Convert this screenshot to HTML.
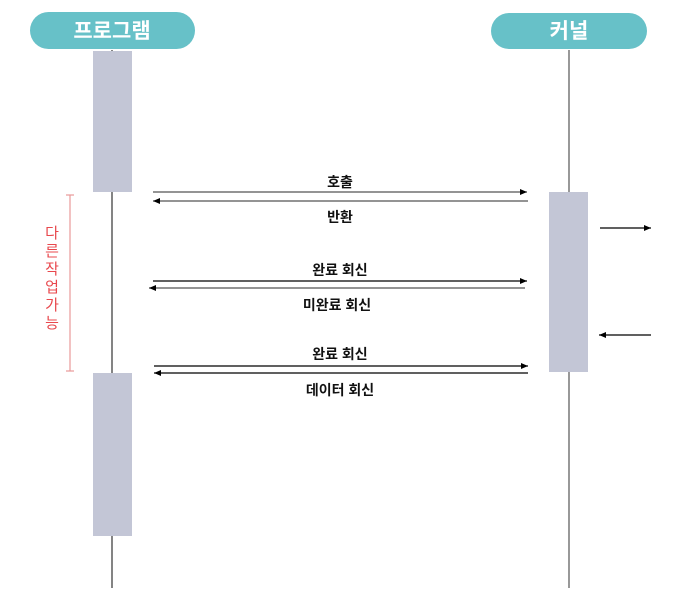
<!DOCTYPE html>
<html><head><meta charset="utf-8"><style>
html,body{margin:0;padding:0;background:#fff;width:680px;height:600px;overflow:hidden}
text{font-family:"Liberation Sans","Noto Sans CJK KR",sans-serif}
</style></head><body>
<svg width="680" height="600" xmlns="http://www.w3.org/2000/svg">
<defs>
<marker id="a" markerWidth="8" markerHeight="8" refX="7" refY="4" orient="auto" markerUnits="userSpaceOnUse"><path d="M0,1 L7,4 L0,7 z" fill="#000"/></marker>
</defs>
<line x1="112" y1="50" x2="112" y2="588" stroke="#333" stroke-width="1.2"/>
<line x1="569" y1="50" x2="569" y2="588" stroke="#555" stroke-width="1.2"/>
<rect x="30" y="12" width="165" height="37" rx="18.5" fill="#67c1c8"/>
<text x="112" y="38" text-anchor="middle" font-size="21" font-weight="bold" fill="#fff">프로그램</text>
<rect x="491" y="13" width="156" height="36" rx="18" fill="#67c1c8"/>
<text x="569" y="38" text-anchor="middle" font-size="21" font-weight="bold" fill="#fff">커널</text>
<rect x="93" y="51" width="39" height="141" fill="#c3c6d6"/>
<rect x="93" y="373" width="39" height="163" fill="#c3c6d6"/>
<rect x="549" y="192" width="39" height="180" fill="#c3c6d6"/>
<g stroke="#e89a9a" stroke-width="1.2">
<line x1="70" y1="195" x2="70" y2="371"/><line x1="66" y1="195" x2="74" y2="195"/><line x1="66" y1="371" x2="74" y2="371"/>
</g>
<g fill="#e8484d" font-size="15" text-anchor="middle">
<text x="52" y="238">다</text><text x="52" y="256">른</text><text x="52" y="274">작</text><text x="52" y="292">업</text><text x="52" y="310">가</text><text x="52" y="328">능</text>
</g>
<g stroke-width="1.2" marker-end="url(#a)">
<line x1="153" y1="192" x2="527" y2="192" stroke="#555"/>
<line x1="528" y1="201" x2="153" y2="201" stroke="#555"/>
<line x1="153" y1="281" x2="527" y2="281" stroke="#000"/>
<line x1="525" y1="288" x2="149" y2="288" stroke="#555"/>
<line x1="154" y1="366" x2="528" y2="366" stroke="#000"/>
<line x1="528" y1="373" x2="154" y2="373" stroke="#000"/>
<line x1="600" y1="228" x2="651" y2="228" stroke="#000"/>
<line x1="651" y1="335" x2="599" y2="335" stroke="#000"/>
</g>
<g font-size="14" font-weight="bold" text-anchor="middle" fill="#111">
<text x="340" y="187">호출</text>
<text x="340" y="222">반환</text>
<text x="340" y="275">완료 회신</text>
<text x="337" y="310">미완료 회신</text>
<text x="340" y="359">완료 회신</text>
<text x="340" y="395">데이터 회신</text>
</g>
</svg>
</body></html>
